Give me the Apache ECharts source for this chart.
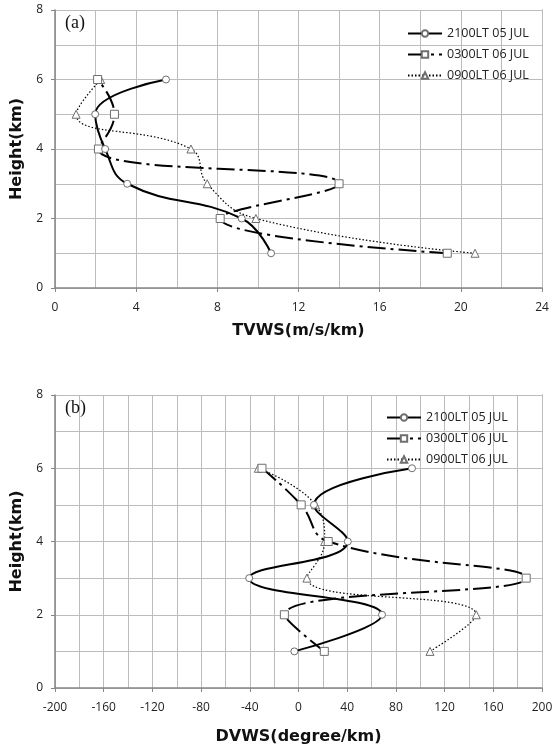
<!DOCTYPE html>
<html>
<head>
<meta charset="utf-8">
<script src="https://cdn.jsdelivr.net/npm/echarts@6/dist/echarts.min.js"></script>
<style>
html,body{margin:0;padding:0;background:#fff;}
#chart{width:558px;height:753px;}
</style>
</head>
<body>
<div id="chart"></div>
<script>
// Data
var heights = [1, 2, 3, 4, 5, 6];
var seriesNames = ['2100LT 05 JUL', '0300LT 06 JUL', '0900LT 06 JUL'];
var tvws2100 = [10.65, 9.2, 3.56, 2.47, 1.98, 5.47];
var tvws0300 = [19.33, 8.14, 14.0, 2.14, 2.93, 2.1];
var tvws0900 = [20.7, 9.9, 7.5, 6.7, 1.04, 2.25];
var dvws2100 = [-3.4, 68.6, -40.5, 40.5, 12.7, 93.2];
var dvws0300 = [21.2, -11.6, 187, 24.4, 2.2, -30];
var dvws0900 = [108, 146, 6.9, 21.5, 14, -33];

function pairs(xs) { return xs.map(function (v, i) { return [v, heights[i]]; }); }

var chart = echarts.init(document.getElementById('chart'), null, {renderer: 'canvas'});
var tickFont = {fontFamily: 'Open Sans, DejaVu Sans, sans-serif', fontSize: 12, color: '#222'};
var nameFont = {fontFamily: 'DejaVu Sans, sans-serif', fontSize: 16, fontWeight: 'bold', color: '#111'};
var gridColor = '#bcbcbc';
function gridLine() { return {show: true, lineStyle: {color: gridColor, width: 1, type: 'solid'}}; }
function axisLine() { return {show: true, onZero: false, lineStyle: {color: '#868686', width: 1.5}}; }

function xAx(idx, min, max, interval, name, gap) {
  return {
    type: 'value', gridIndex: idx, min: min, max: max, interval: interval, position: 'bottom',
    name: name, nameLocation: 'middle', nameGap: gap, nameTextStyle: nameFont,
    axisLine: axisLine(), axisTick: {show: true, length: 4, lineStyle: {color: '#868686'}},
    axisLabel: Object.assign({margin: 14}, tickFont),
    splitLine: gridLine(), minorTick: {show: true, splitNumber: 2, length: 0},
    minorSplitLine: gridLine(), z: 1
  };
}
function yAx(idx) {
  return {
    type: 'value', gridIndex: idx, min: 0, max: 8, interval: 2, position: 'left',
    name: 'Height(km)', nameLocation: 'middle', nameGap: 25, nameTextStyle: nameFont,
    axisLine: axisLine(), axisTick: {show: true, length: 4, lineStyle: {color: '#868686'}},
    axisLabel: Object.assign({margin: 12}, tickFont),
    splitLine: gridLine(), minorTick: {show: true, splitNumber: 2, length: 0},
    minorSplitLine: gridLine(), z: 1
  };
}
// frame axes (top / right border only)
function frameX(idx, min, max) {
  return {type: 'value', gridIndex: idx, min: min, max: max, position: 'top',
    axisLine: {show: true, onZero: false, lineStyle: {color: '#868686', width: 1}},
    axisTick: {show: false}, axisLabel: {show: false}, splitLine: {show: false}};
}
function frameY(idx) {
  return {type: 'value', gridIndex: idx, min: 0, max: 8, position: 'right',
    axisLine: {show: true, onZero: false, lineStyle: {color: '#868686', width: 1}},
    axisTick: {show: false}, axisLabel: {show: false}, splitLine: {show: false}};
}

var styles = [
  {symbol: 'circle', size: 7, line: {color: '#000', width: 2, type: 'solid'}},
  {symbol: 'rect', size: 8, line: {color: '#000', width: 2, type: [18, 5, 3, 5]}},
  {symbol: 'triangle', size: 8, line: {color: '#000', width: 1.2, type: [1.5, 2]}}
];

function mk(name, data, k, gi) {
  var s = styles[k];
  return {
    name: name, type: 'line', xAxisIndex: gi, yAxisIndex: gi,
    data: pairs(data), smooth: 0.45, symbol: s.symbol, symbolSize: s.size,
    showAllSymbol: true,
    lineStyle: s.line,
    itemStyle: {color: '#fff', borderColor: '#6e6e6e', borderWidth: 1},
    emphasis: {disabled: true},
    z: 5 - k
  };
}

var legendText = {fontFamily: 'Open Sans, DejaVu Sans, sans-serif', fontSize: 12.5, color: '#222'};

var option = {
  backgroundColor: '#fff',
  animation: false,
  grid: [
    {left: 55, top: 10, right: 16, bottom: 465, show: false},
    {left: 55, top: 395, right: 16, bottom: 65, show: false}
  ],
  xAxis: [
    xAx(0, 0, 24, 4, 'TVWS(m/s/km)', 35),
    xAx(1, -200, 200, 40, 'DVWS(degree/km)', 41),
    frameX(0, 0, 24),
    frameX(1, -200, 200)
  ],
  yAxis: [yAx(0), yAx(1), frameY(0), frameY(1)],
  legend: [
    {left: 402, top: 22, orient: 'vertical', itemWidth: 34, itemHeight: 8, itemGap: 8,
     data: seriesNames.map(function (n) { return {name: n}; }),
     textStyle: legendText, selectedMode: false},
    {left: 381, top: 406, orient: 'vertical', itemWidth: 34, itemHeight: 8, itemGap: 8,
     data: seriesNames.map(function (n) { return {name: n + ' '}; }),
     textStyle: legendText, selectedMode: false}
  ],
  graphic: [
    {type: 'text', left: 65, top: 14, z: 10, style: {text: '(a)', font: '18px "Liberation Serif", serif', fill: '#111'}},
    {type: 'text', left: 65, top: 399, z: 10, style: {text: '(b)', font: '18px "Liberation Serif", serif', fill: '#111'}}
  ],
  series: [
    mk(seriesNames[0], tvws2100, 0, 0),
    mk(seriesNames[1], tvws0300, 1, 0),
    mk(seriesNames[2], tvws0900, 2, 0),
    mk(seriesNames[0] + ' ', dvws2100, 0, 1),
    mk(seriesNames[1] + ' ', dvws0300, 1, 1),
    mk(seriesNames[2] + ' ', dvws0900, 2, 1)
  ]
};
chart.setOption(option);
</script>
</body>
</html>
